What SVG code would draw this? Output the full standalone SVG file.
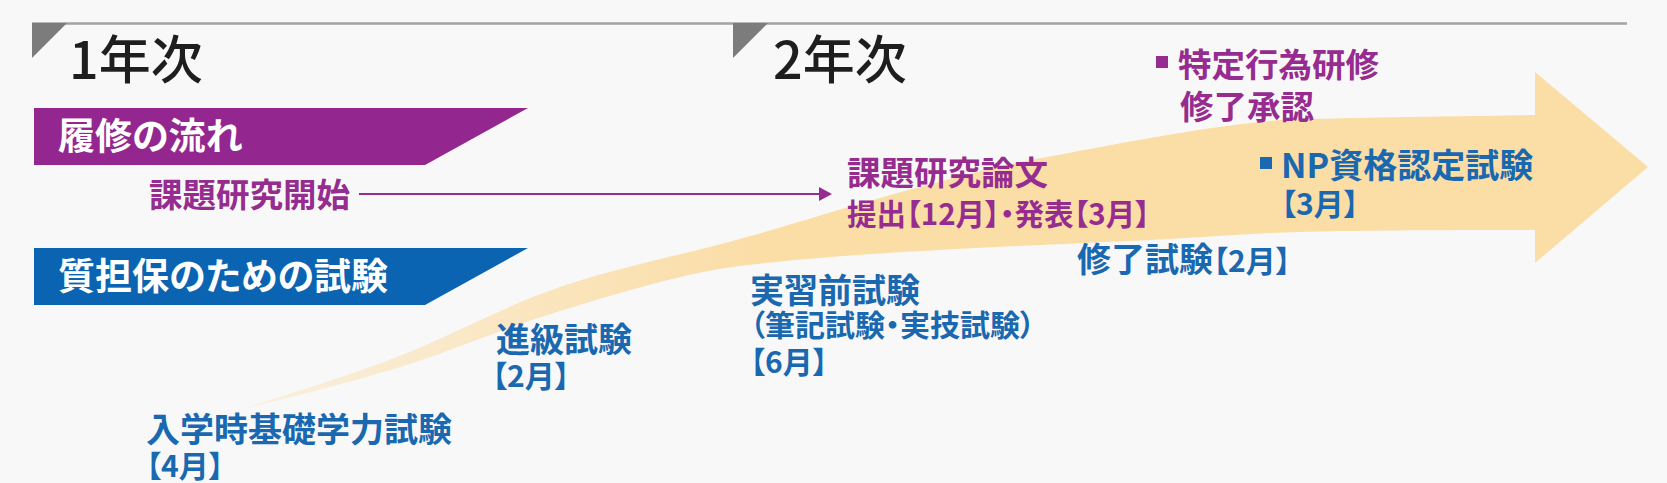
<svg xmlns="http://www.w3.org/2000/svg" width="1667" height="483" viewBox="0 0 1667 483">
<defs>
<style>
text{font-family:"Noto Sans CJK JP","Noto Sans",sans-serif;font-feature-settings:"palt";}
.yr{font-size:52px;fill:#1e1e1e;font-weight:500;}
.ban{font-size:37px;fill:#ffffff;font-weight:700;}
.pl{font-size:33.5px;fill:#962c8f;font-weight:700;}
.ps{font-size:29.5px;fill:#962c8f;font-weight:700;}
.bl{font-size:34px;fill:#1a68b0;font-weight:700;}
.bs{font-size:30px;fill:#1a68b0;font-weight:700;}
.tri{fill:#7c7c7c;}
</style>
<linearGradient id="band" gradientUnits="userSpaceOnUse" x1="240" y1="0" x2="760" y2="0">
<stop offset="0" stop-color="#fbdda6" stop-opacity="0.3"/>
<stop offset="1" stop-color="#fbdda6" stop-opacity="1"/>
</linearGradient>
<marker id="ah" markerWidth="13" markerHeight="14" refX="11" refY="7" orient="auto" markerUnits="userSpaceOnUse">
<path d="M0,0 L13,7 L0,14 Z" fill="#962c8f"/>
</marker>
</defs>
<rect width="1667" height="483" fill="#f8f8f8"/>
<g id="big-arrow">
<path d="M240,410 C266,401 344,377.5 397,357 C450,336.5 502,307 560,287 C618,267 687,254 747,237 C807,220 870,200 920,187 C970,174 987,168 1047,157 C1107,146 1199,127 1280,120 C1361,117 1492,116 1535,115 L1535,72 L1648,167 L1535,263 L1535,230 C1496,230 1364,230 1300,232 C1236,234 1213,237 1150,240 C1087,243 987,247 920,251 C853,255 805,258.5 747,265 C687,271.7 618,293.5 560,311 C502,328.5 450,351.5 397,368 C344,384.5 266,403 240,410 Z" fill="url(#band)"/>
</g>
<g id="timeline">
<line x1="32" y1="23.5" x2="1627" y2="23.5" stroke="#a3a3a3" stroke-width="2.5"/>
<polygon class="tri" points="32,23 67,23 32,58"/>
<polygon class="tri" points="733,23 768,23 733,58"/>
</g>
<g id="year1"><text class="yr" x="69" y="79">1年次</text></g>
<g id="year2"><text class="yr" x="773" y="79">2年次</text></g>
<g id="banner-course">
<polygon points="34,108 528,108 425,165 34,165" fill="#93278f"/>
<text class="ban" x="58" y="150">履修の流れ</text>
</g>
<g id="banner-exam">
<polygon points="34,248 528,248 425,305 34,305" fill="#0a64b2"/>
<text class="ban" x="58" y="290">質担保のための試験</text>
</g>
<g id="research-start"><text class="pl" x="149" y="207">課題研究開始</text></g>
<g id="connectors">
<line x1="359" y1="194" x2="830" y2="194" stroke="#962c8f" stroke-width="2" marker-end="url(#ah)"/>
</g>
<g id="thesis">
<text class="pl" x="847" y="185">課題研究論文</text>
<text class="ps" x="847" y="225">提出【12月】・発表【3月】</text>
</g>
<g id="tokutei">
<rect x="1156" y="56" width="12" height="12" fill="#962c8f"/>
<text class="pl" x="1178" y="77">特定行為研修</text>
<text class="pl" x="1180" y="119">修了承認</text>
</g>
<g id="np-exam">
<rect x="1260" y="157" width="12" height="12" fill="#1a68b0"/>
<text class="bl" x="1281" y="178">NP資格認定試験</text>
<text class="bs" x="1281" y="215">【3月】</text>
</g>
<g id="final-exam"><text class="bl" x="1077" y="272">修了試験<tspan style="font-size:30px">【2月】</tspan></text></g>
<g id="pre-practice">
<text class="bl" x="750" y="303">実習前試験</text>
<text class="bs" x="750" y="336">（筆記試験・実技試験）</text>
<text class="bs" x="750" y="373">【6月】</text>
</g>
<g id="promotion">
<text class="bl" x="496" y="352">進級試験</text>
<text class="bs" x="492" y="387">【2月】</text>
</g>
<g id="entrance">
<text class="bl" x="146" y="442">入学時基礎学力試験</text>
<text class="bs" x="146" y="477">【4月】</text>
</g>
</svg>
